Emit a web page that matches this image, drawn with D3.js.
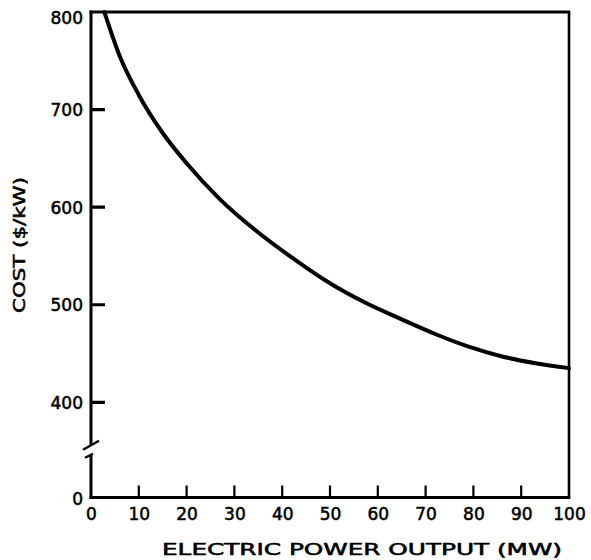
<!DOCTYPE html>
<html>
<head>
<meta charset="utf-8">
<script src="https://cdn.jsdelivr.net/npm/d3@7"></script>
<style>
  html, body { margin: 0; padding: 0; background: #fff; }
  svg { display: block; }
  .lbl { font-family: "DejaVu Sans", sans-serif; font-size: 17px; fill: #000; stroke: #000; stroke-width: 0.55px; }
</style>
</head>
<body>
<svg id="chart" width="591" height="560"></svg>
<script>
// ---- data ----
const powerMW = [2.8, 6, 10, 15, 20, 27, 35, 43, 50, 57, 65, 72, 79, 86, 93, 100];
const costPerKW = [800, 755, 715, 676, 645, 608, 574, 545, 522, 503, 485, 470, 457, 447, 440, 435];
const xTickValues = [0, 10, 20, 30, 40, 50, 60, 70, 80, 90, 100];
const yTickValues = [0, 400, 500, 600, 700, 800];
const xAxisTitle = "ELECTRIC POWER OUTPUT (MW)";
const yAxisTitle = "COST ($/kW)";

// ---- layout ----
const svg = d3.select("#chart");
const x = d3.scaleLinear().domain([0, 100]).range([91, 569]);
// broken axis: 0..400 compressed segment, 400..800 full scale
const y = d3.scaleLinear().domain([0, 400, 800]).range([497.5, 402.3, 12]);

// x axis labels via d3 axis
const xAxis = d3.axisBottom(x).tickValues(xTickValues).tickSize(0).tickPadding(10).tickFormat(d3.format("d"));
const gx = svg.append("g").attr("transform", `translate(0,${y(0)})`).call(xAxis);
gx.select(".domain").remove();
gx.selectAll(".tick line").remove();
gx.selectAll(".tick text").attr("class", "lbl").attr("dy", "0.74em");

// y axis labels via d3 axis
const yAxis = d3.axisLeft(y).tickValues(yTickValues).tickSize(0).tickPadding(8).tickFormat(d3.format("d"));
const gy = svg.append("g").attr("transform", `translate(${x(0)},0)`).call(yAxis);
gy.select(".domain").remove();
gy.selectAll(".tick line").remove();
gy.selectAll(".tick text").attr("class", "lbl").attr("dy", "0.36em");
gy.selectAll(".tick").filter(d => d === 800).select("text").attr("dy", "0.7em");
gy.selectAll(".tick").filter(d => d === 0).select("text").attr("dy", "0.4em");

// frame lines
const frame = svg.append("g").attr("stroke", "#000").attr("fill", "none").attr("stroke-linecap", "butt");
const breakVal = 205;
const yb = y(breakVal);
frame.append("line").attr("x1", x(0)).attr("x2", x(0)).attr("y1", y(800) - 1.5).attr("y2", yb - 4).attr("stroke-width", 3);
frame.append("line").attr("x1", x(0)).attr("x2", x(0)).attr("y1", yb + 6).attr("y2", y(0) + 1.5).attr("stroke-width", 3);
frame.append("line").attr("x1", x(0) - 1.5).attr("x2", x(100) + 1.3).attr("y1", y(0)).attr("y2", y(0)).attr("stroke-width", 3);
frame.append("line").attr("x1", x(0) - 1.5).attr("x2", x(100) + 1.3).attr("y1", y(800)).attr("y2", y(800)).attr("stroke-width", 3.2);
frame.append("line").attr("x1", x(100)).attr("x2", x(100)).attr("y1", y(800)).attr("y2", y(0)).attr("stroke-width", 2.6);

// inward tick marks
const tp = d3.path();
xTickValues.filter(v => v > 0 && v < 100).forEach(v => {
  tp.moveTo(x(v), y(0));
  tp.lineTo(x(v), y(0) - 12);
});
frame.append("path").attr("d", tp.toString()).attr("stroke-width", 2.2);
const tq = d3.path();
yTickValues.filter(v => v > 0 && v < 800).forEach(v => {
  tq.moveTo(x(0), y(v));
  tq.lineTo(x(0) + 14, y(v));
});
frame.append("path").attr("d", tq.toString()).attr("stroke-width", 3.2);

// break marks
const bk = svg.append("g").attr("stroke", "#000").attr("stroke-width", 2.4);
bk.append("line").attr("x1", x(0) - 8).attr("y1", yb + 1).attr("x2", x(0) + 8).attr("y2", yb - 8);
bk.append("line").attr("x1", x(0) - 6).attr("y1", yb + 9).attr("x2", x(0) + 2).attr("y2", yb + 5);

// curve
const line = d3.line().x((d, i) => x(powerMW[i])).y(d => y(d)).curve(d3.curveMonotoneX);
svg.append("path").datum(costPerKW).attr("d", line)
  .attr("fill", "none").attr("stroke", "#000").attr("stroke-width", 4).attr("stroke-linecap", "round");

// axis titles
svg.append("text").attr("class", "lbl").attr("x", 362).attr("y", 555)
  .attr("text-anchor", "middle").style("font-size", "16px")
  .attr("textLength", 400).attr("lengthAdjust", "spacingAndGlyphs")
  .text(xAxisTitle);
svg.append("text").attr("class", "lbl").attr("transform", "translate(25,245) rotate(-90)")
  .attr("text-anchor", "middle").style("font-size", "16px")
  .attr("textLength", 136).attr("lengthAdjust", "spacingAndGlyphs")
  .text(yAxisTitle);
</script>
</body>
</html>
